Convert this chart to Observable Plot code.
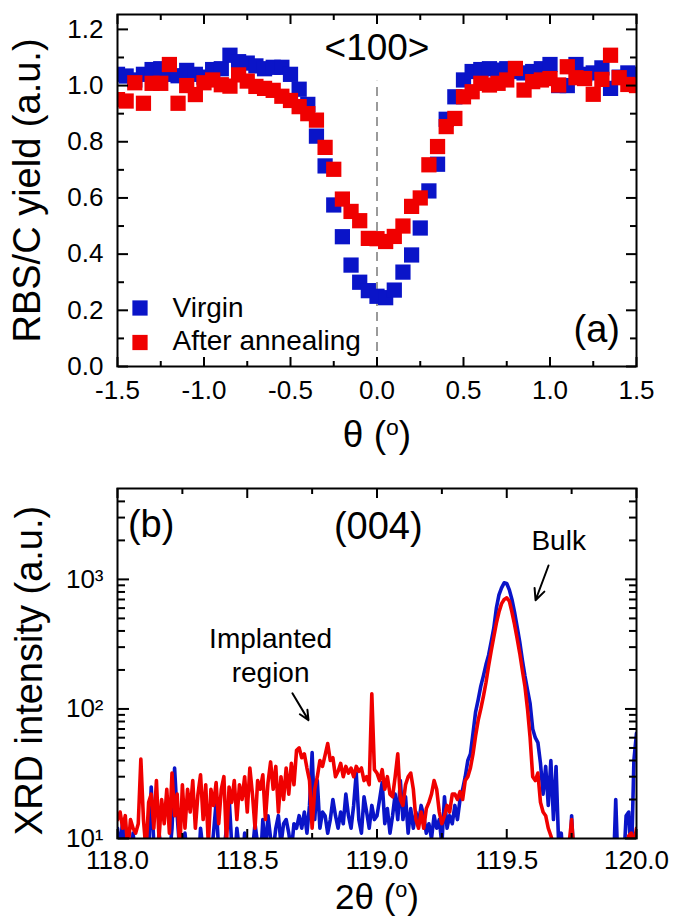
<!DOCTYPE html>
<html><head><meta charset="utf-8">
<script src="https://cdn.jsdelivr.net/npm/d3@7"></script>
<script src="https://cdn.jsdelivr.net/npm/@observablehq/plot@0.6"></script>
<style>
body{margin:0;background:#fff;}
#wrap{width:675px;height:917px;position:relative;overflow:hidden;}
#wrap svg{display:block;}
</style></head><body><div id="wrap"></div>
<script>
// ---------- Panel (a): RBS/C angular scan ----------
const theta = [-1.5,-1.45,-1.4,-1.35,-1.3,-1.25,-1.2,-1.15,-1.1,-1.05,
  -1.0,-0.95,-0.9,-0.85,-0.8,-0.75,-0.7,-0.65,-0.6,-0.55,
  -0.5,-0.45,-0.4,-0.35,-0.3,-0.25,-0.2,-0.15,-0.1,-0.05,
  0,0.05,0.1,0.15,0.2,0.25,0.3,0.35,0.4,0.45,
  0.5,0.55,0.6,0.65,0.7,0.75,0.8,0.85,0.9,0.95,
  1.0,1.05,1.1,1.15,1.2,1.25,1.3,1.35,1.4,1.45,1.5];
const virgin = [1.04,1.034,1.02,1.04,1.057,1.06,1.04,1.035,1.054,1.04,
  1.03,1.057,1.06,1.108,1.085,1.08,1.07,1.06,1.065,1.065,
  1.04,0.987,0.933,0.82,0.714,0.575,0.462,0.361,0.30,0.27,
  0.25,0.245,0.272,0.336,0.397,0.493,0.625,0.72,0.88,0.96,
  1.02,1.05,1.057,1.06,1.055,1.06,1.05,1.045,1.05,1.06,
  1.075,1.0,1.0,1.075,1.04,1.045,1.063,0.99,1.03,1.045,1.04];
const annealed = [0.95,0.945,1.01,0.937,1.008,1.008,1.075,0.937,1.0,0.968,
  1.01,1.02,1.003,0.998,1.038,1.016,0.997,0.99,0.983,0.962,
  0.947,0.925,0.9,0.877,0.78,0.702,0.596,0.552,0.519,0.456,
  0.455,0.445,0.463,0.50,0.57,0.60,0.718,0.783,0.854,0.883,
  0.96,0.978,1.008,1.002,1.008,1.02,1.061,0.984,1.014,1.02,
  1.025,1.002,1.067,1.028,1.025,0.969,1.022,1.108,1.028,1.004,1.0];
const seriesNames = ["Virgin", "After annealing"];
const seriesColors = ["#0a14c8", "#f00000"];
const thetaTicks = [-1.5,-1.0,-0.5,0,0.5,1.0,1.5];
const thetaMinor = [-1.25,-0.75,-0.25,0.25,0.75,1.25];
const yieldTicks = [0,0.2,0.4,0.6,0.8,1.0,1.2];
const yieldMinor = [0.1,0.3,0.5,0.7,0.9,1.1];
const axisTitlesA = {x: "θ (º)", y: "RBS/C yield (a.u.)"};
const notesA = [{text: "<100>", x: 0, y: 1.133, size: 37}, {text: "(a)", x: 1.27, y: 0.13, size: 38}];
const channelLine = {x: 0, y1: 0, y2: 1.015};

// ---------- Panel (b): XRD (004) scans ----------
const twoTheta = [
118.00,118.01,118.02,118.03,118.04,118.05,118.06,118.07,118.08,118.09,
118.10,118.11,118.12,118.13,118.14,118.15,118.16,118.17,118.18,118.19,
118.20,118.21,118.22,118.23,118.24,118.25,118.26,118.27,118.28,118.29,
118.30,118.31,118.32,118.33,118.34,118.35,118.36,118.37,118.38,118.39,
118.40,118.41,118.42,118.43,118.44,118.45,118.46,118.47,118.48,118.49,
118.50,118.51,118.52,118.53,118.54,118.55,118.56,118.57,118.58,118.59,
118.60,118.61,118.62,118.63,118.64,118.65,118.66,118.67,118.68,118.69,
118.70,118.71,118.72,118.73,118.74,118.75,118.76,118.77,118.78,118.79,
118.80,118.81,118.82,118.83,118.84,118.85,118.86,118.87,118.88,118.89,
118.90,118.91,118.92,118.93,118.94,118.95,118.96,118.97,118.98,118.99,
119.00,119.01,119.02,119.03,119.04,119.05,119.06,119.07,119.08,119.09,
119.10,119.11,119.12,119.13,119.14,119.15,119.16,119.17,119.18,119.19,
119.20,119.21,119.22,119.23,119.24,119.25,119.26,119.27,119.28,119.29,
119.30,119.31,119.32,119.33,119.34,119.35,119.36,119.37,119.38,119.39,
119.40,119.41,119.42,119.43,119.44,119.45,119.46,119.47,119.48,119.49,
119.50,119.51,119.52,119.53,119.54,119.55,119.56,119.57,119.58,119.59,
119.60,119.61,119.62,119.63,119.64,119.65,119.66,119.67,119.68,119.69,
119.70,119.71,119.72,119.73,119.74,119.75,119.76,119.77,119.78,119.79,
119.80,119.81,119.82,119.83,119.84,119.85,119.86,119.87,119.88,119.89,
119.90,119.91,119.92,119.93,119.94,119.95,119.96,119.97,119.98,119.99,120.00];
const xrdVirgin = [
12,8,14,5,9,6,11,7,6,5,
6,12,8,25,9,6,11,8,6,5,
7,12,35,15,8,6,11,7,6,9,
6,5,12,8,6,5,7,11,19,8,
6,8,12,21,9,6,12,8,6,11,
5,9,8,13,9,6,14,8,15,10,
8,12,15,9,13,14,11,8,13,12,
15,12,16,11,18,46,14,28,12,16,
15,11,14,20,15,12,16,13,22,15,
12,18,32,14,11,21,16,12,18,14,
15,20,27,13,17,11,15,22,14,28,
14,21,11,17,12,16,13,18,15,11,
13,10,15,12,14,9,21,12,15,13,
18,14,20,24,30,40,45,65,95,118,
150,180,220,260,330,420,600,760,860,940,
930,830,700,560,430,330,240,180,140,110,
70,60,55,38,22,36,18,40,14,36,
9,11,6,7,5,15,6,5,4,5,
4,5,4,5,4,5,4,5,4,5,
4,5,20,5,4,6,15,16,6,40,65];
const xrdAnnealed = [
14,16,12,15,8,14,12,11,13,41,
14,8,19,22,12,28,10,20,13,24,
11,32,15,22,8,26,12,24,16,28,
12,22,31,14,26,9,24,18,27,13,
24,30,9,25,19,28,14,26,20,30,
16,35,22,12,28,24,31,14,27,39,
24,36,16,30,20,35,22,38,26,48,
50,42,45,35,28,12,24,30,40,36,
44,54,40,42,30,33,38,30,36,32,
35,30,36,33,35,28,30,26,131,34,
32,28,34,24,30,22,21,30,45,20,
18,26,30,32,24,14,12,16,12,17,
19,22,28,24,16,13,15,18,16,22,
22,20,23,20,28,30,35,45,62,82,
100,125,160,215,280,360,460,560,650,700,
720,680,560,450,350,270,200,150,100,60,
30,28,32,19,16,15,12,10.5,9,8,
7,6,6,8,9,14,7,5,5,4,
4,5,4,5,6,5,4,5,4,5,
4,5,6,5,4,5,6,10.5,11,9,12];
const twoThetaTicks = [118.0,118.5,119.0,119.5,120.0];
const twoThetaMinor = [118.25,118.75,119.25,119.75];
const intensityTicks = [10,100,1000];
const intensityMinor = [20,30,40,50,60,70,80,90,200,300,400,500,600,700,800,900,2000,3000,4000];
const axisTitlesB = {x: "2θ (º)", y: "XRD intensity (a.u.)"};
const notesB = [
  {text: "(b)", x: 118.04, y: 2660, size: 38, anchor: "start"},
  {text: "(004)", x: 119.005, y: 2660, size: 38, anchor: "middle"},
  {text: "Bulk", x: 119.70, y: 2040, size: 28, anchor: "middle"},
  {text: "Implanted\nregion", x: 118.59, y: 264, size: 28, anchor: "middle"}
];
const arrowsB = [
  {x1: 119.661, y1: 1280, x2: 119.611, y2: 690},
  {x1: 118.674, y1: 132, x2: 118.736, y2: 82}
];

// ---------- drawing ----------
const FONT = '"Liberation Sans", Arial, Helvetica, sans-serif';
const BLUE = seriesColors[0], RED = seriesColors[1];
const SUP = {1: "¹", 2: "²", 3: "³"};

function inwardX(ticks, size) {
  return [
    Plot.axisX(ticks, {anchor: "top", frameAnchor: "bottom", fill: "none", tickSize: size, strokeWidth: 2, label: null}),
    Plot.axisX(ticks, {anchor: "bottom", frameAnchor: "top", fill: "none", tickSize: size, strokeWidth: 2, label: null})
  ];
}
function inwardY(ticks, size) {
  return [
    Plot.axisY(ticks, {anchor: "right", frameAnchor: "left", fill: "none", tickSize: size, strokeWidth: 2, label: null}),
    Plot.axisY(ticks, {anchor: "left", frameAnchor: "right", fill: "none", tickSize: size, strokeWidth: 2, label: null})
  ];
}

const rowsA = theta.map((t, i) => ({t, v: virgin[i], a: annealed[i]}));

const plotA = Plot.plot({
  width: 675, height: 460,
  marginTop: 14, marginBottom: 94, marginLeft: 117, marginRight: 39,
  style: {fontFamily: FONT, color: "black", background: "white", overflow: "visible"},
  x: {domain: [-1.5, 1.5], label: null},
  y: {domain: [0, 1.253], label: null},
  marks: [
    Plot.ruleX([channelLine], {x: "x", y1: "y1", y2: "y2", stroke: "#9a9a9a", strokeWidth: 2, strokeDasharray: "9,6"}),
    Plot.dot(rowsA, {x: "t", y: "v", symbol: "square", r: 8.6, fill: BLUE, stroke: "none", clip: true}),
    Plot.dot(rowsA, {x: "t", y: "a", symbol: "square", r: 8.6, fill: RED, stroke: "none", clip: true}),
    Plot.frame({strokeWidth: 2}),
    ...inwardX(thetaTicks, 10), ...inwardX(thetaMinor, 6),
    ...inwardY(yieldTicks, 10), ...inwardY(yieldMinor, 6),
    Plot.axisX(thetaTicks, {anchor: "bottom", tickSize: 0, tickPadding: 14.5, fontSize: 26, tickFormat: d => d.toFixed(1), label: null}),
    Plot.axisY(yieldTicks, {anchor: "left", tickSize: 0, tickPadding: 14, fontSize: 26, tickFormat: d => d.toFixed(1), label: null}),
    Plot.text([axisTitlesA.y], {text: d => d, frameAnchor: "left", dx: -90, rotate: -90, textAnchor: "middle", lineAnchor: "middle", fontSize: 38}),
    Plot.text([axisTitlesA.x], {text: d => d, frameAnchor: "bottom", dy: 69, textAnchor: "middle", lineAnchor: "middle", fontSize: 37}),
    Plot.text(notesA, {x: "x", y: "y", text: "text", fontSize: d => d.size}),
    Plot.dot([seriesNames[0]], {frameAnchor: "bottom-left", dx: 22.5, dy: -58.5, symbol: "square", r: 8.6, fill: BLUE}),
    Plot.dot([seriesNames[1]], {frameAnchor: "bottom-left", dx: 22.5, dy: -24, symbol: "square", r: 8.6, fill: RED}),
    Plot.text([seriesNames[0]], {text: d => d, frameAnchor: "bottom-left", dx: 55, dy: -58.5, textAnchor: "start", lineAnchor: "middle", fontSize: 28}),
    Plot.text([seriesNames[1]], {text: d => d, frameAnchor: "bottom-left", dx: 55, dy: -25, textAnchor: "start", lineAnchor: "middle", fontSize: 28})
  ]
});

const rowsB = twoTheta.map((t, i) => ({t, v: xrdVirgin[i], a: xrdAnnealed[i]}));

const plotB = Plot.plot({
  width: 675, height: 457,
  marginTop: 28, marginBottom: 79, marginLeft: 117, marginRight: 39,
  style: {fontFamily: FONT, color: "black", background: "white", overflow: "visible"},
  x: {domain: [118, 120], label: null},
  y: {type: "log", domain: [10, 5030], label: null},
  marks: [
    Plot.line(rowsB, {x: "t", y: "v", stroke: BLUE, strokeWidth: 3.6, strokeLinejoin: "round", clip: true}),
    Plot.line(rowsB, {x: "t", y: "a", stroke: RED, strokeWidth: 3.6, strokeLinejoin: "round", clip: true}),
    Plot.frame({strokeWidth: 2}),
    ...inwardX(twoThetaTicks, 10), ...inwardX(twoThetaMinor, 6),
    ...inwardY(intensityTicks, 11), ...inwardY(intensityMinor, 7),
    Plot.axisX(twoThetaTicks, {anchor: "bottom", tickSize: 0, tickPadding: 12, fontSize: 26, tickFormat: d => d.toFixed(1), label: null}),
    Plot.axisY(intensityTicks, {anchor: "left", tickSize: 0, tickPadding: 14, fontSize: 26, tickFormat: d => "10" + SUP[Math.round(Math.log10(d))], label: null}),
    Plot.text([axisTitlesB.y], {text: d => d, frameAnchor: "left", dx: -88, dy: 7, rotate: -90, textAnchor: "middle", lineAnchor: "middle", fontSize: 38}),
    Plot.text([axisTitlesB.x], {text: d => d, frameAnchor: "bottom", dy: 59, textAnchor: "middle", lineAnchor: "middle", fontSize: 35}),
    Plot.text(notesB, {x: "x", y: "y", text: "text", fontSize: d => d.size, textAnchor: "middle", lineHeight: 1.2,
      filter: d => d.anchor === "middle"}),
    Plot.text(notesB, {x: "x", y: "y", text: "text", fontSize: d => d.size, textAnchor: "start",
      filter: d => d.anchor === "start"}),
    Plot.arrow(arrowsB, {x1: "x1", y1: "y1", x2: "x2", y2: "y2", stroke: "black", strokeWidth: 2, headLength: 11, headAngle: 50})
  ]
});

// superscript "o" in the degree unit
function supDegree(svg) {
  const ns = "http://www.w3.org/2000/svg";
  for (const t of svg.querySelectorAll("text")) {
    if (t.children.length === 0 && t.textContent.includes("º")) {
      const [pre, post] = t.textContent.split("º");
      t.textContent = pre;
      const s = document.createElementNS(ns, "tspan");
      s.setAttribute("font-size", "0.62em");
      s.setAttribute("dy", "-0.56em");
      s.textContent = "o";
      const p = document.createElementNS(ns, "tspan");
      p.setAttribute("dy", "0.35em");
      p.textContent = post;
      t.appendChild(s); t.appendChild(p);
    }
  }
}
supDegree(plotA); supDegree(plotB);

const wrap = document.getElementById("wrap");
wrap.appendChild(plotA);
wrap.appendChild(plotB);
</script>
</body></html>
